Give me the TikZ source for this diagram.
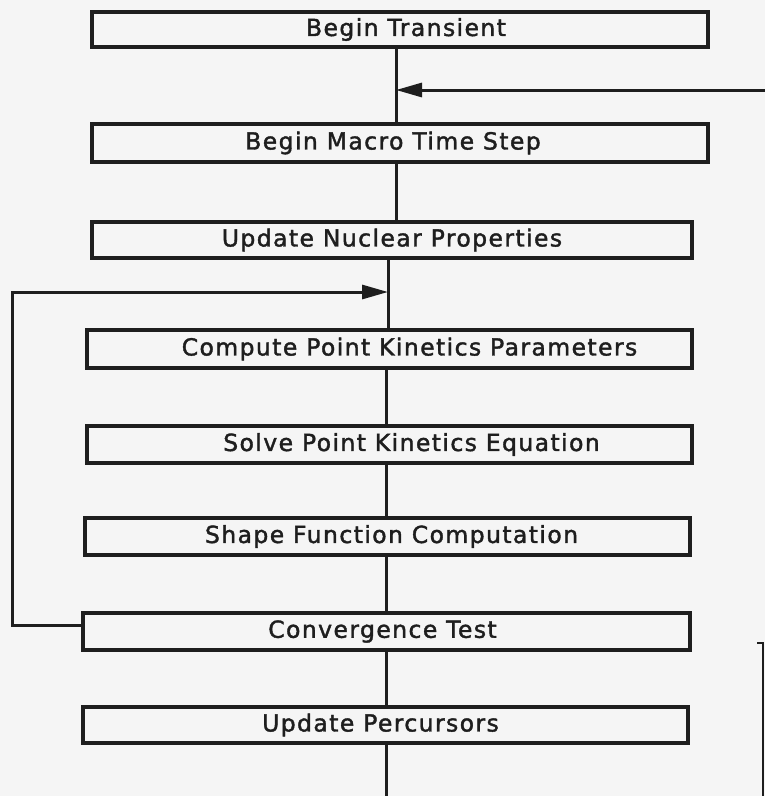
\documentclass[tikz,border=0pt]{standalone}
\usepackage{fontspec}
\setmainfont{DejaVu Sans}[LetterSpace=6, FakeBold=1.6]
\usetikzlibrary{arrows.meta}
\definecolor{paper}{HTML}{F5F5F5}
\definecolor{ink}{HTML}{1E1E1E}
\begin{document}
\begin{tikzpicture}[x=1pt,y=-1pt,
  box/.style={draw=ink, line width=3.5pt, inner sep=0pt, minimum height=36pt,
    font=\fontsize{23.5}{26}\selectfont, text=ink},
  link/.style={draw=ink, line width=3pt},
  flowtip/.style={-{Triangle[length=26pt,width=14pt]}}]
% page
\fill[paper] (0,0) rectangle (765,796);
\useasboundingbox (0,0) rectangle (765,796);

% process boxes
\node[box, minimum width=616pt, minimum height=35pt] (b1) at (400,29.5) {Begin Transient\hspace*{-12pt}};
\node[box, minimum width=616pt, minimum height=38pt] (b2) at (400,143) {Begin Macro Time Step\hspace*{14pt}};
\node[box, minimum width=600pt] (b3) at (392,240) {Update Nuclear Properties};
\node[box, minimum width=605pt, minimum height=38pt] (b4) at (389.5,349) {\hspace*{40pt}Compute Point Kinetics Parameters};
\node[box, minimum width=605pt, minimum height=37pt] (b5) at (389.5,444.5) {\hspace*{44pt}Solve Point Kinetics Equation};
\node[box, minimum width=605pt, minimum height=37pt] (b6) at (387.5,536.5) {\hspace*{8pt}Shape Function Computation};
\node[box, minimum width=607pt, minimum height=37pt] (b7) at (386.5,631.5) {Convergence Test\hspace*{8pt}};
\node[box, minimum width=605pt] (b8) at (385.5,725) {Update Percursors\hspace*{10pt}};

% spine positions
\coordinate (s1) at (396,0);
\coordinate (s2) at (388,0);
\coordinate (s3) at (386,0);

% main flow
\draw[link] (b1.south -| s1) -- (b2.north -| s1);
\draw[link] (b2.south -| s1) -- (b3.north -| s1);
\draw[link] (b3.south -| s2) -- (b4.north -| s2);
\draw[link] (b4.south -| s3) -- (b5.north -| s3);
\draw[link] (b5.south -| s3) -- (b6.north -| s3);
\draw[link] (b6.south -| s3) -- (b7.north -| s3);
\draw[link] (b7.south -| s3) -- (b8.north -| s3);
\coordinate (out) at (386,796);
\draw[link] (b8.south -| s3) -- (out);

% outer return loop (macro time step)
\coordinate (rbot) at (763,796);
\coordinate (rtop) at (763,643);
\coordinate (rin) at (765,90);
\coordinate (rjoin) at (396,90);
\draw[link, line width=2pt] (rbot) -- (rtop) -- ++(-6,0);
\draw[link, flowtip] (rin) -- (rjoin);

% inner iteration loop
\coordinate (ljoin) at (388,292);
\draw[link, flowtip] (b7.west |- 0,625) -- (12,625) |- (ljoin);
\end{tikzpicture}
\end{document}
